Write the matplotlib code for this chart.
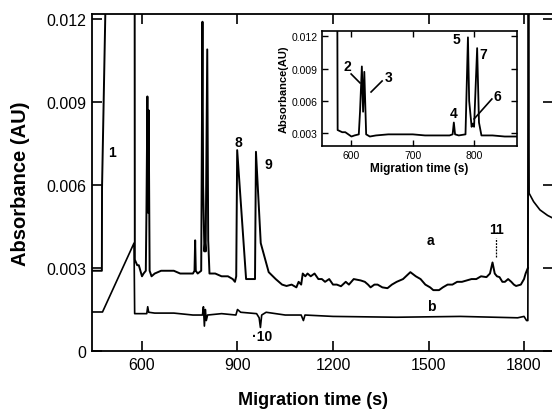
import matplotlib
matplotlib.use("Agg")
import matplotlib.pyplot as plt

plt.rcParams["font.family"] = ["Liberation Sans", "DejaVu Sans"]

# trace a (sample)
t_a = [443, 474, 474.5, 487, 500, 560, 577, 577.5, 585, 590, 595, 600, 605, 612,
       614, 617, 619, 621, 624, 630, 640, 660, 680, 700, 720, 740, 760, 765, 767,
       769, 775, 786, 790, 792, 796, 798, 800, 805, 808, 812, 830, 850, 870, 885,
       892, 896, 899, 927, 940, 955, 958, 973, 998, 1020, 1040, 1054, 1070, 1085,
       1092, 1100, 1105, 1113, 1120, 1130, 1142, 1154, 1165, 1175, 1188, 1200,
       1212, 1225, 1240, 1250, 1265, 1287, 1300, 1310, 1318, 1330, 1340, 1355,
       1371, 1385, 1400, 1420, 1443, 1460, 1475, 1490, 1505, 1515, 1533, 1545,
       1560, 1575, 1590, 1605, 1620, 1635, 1650, 1665, 1682, 1693, 1701, 1708,
       1715, 1723, 1732, 1740, 1750, 1760, 1768, 1775, 1790, 1800, 1805, 1812]
a_val = [0.0029, 0.0029, 0.0059, 0.0135, 0.0135, 0.0135, 0.0135, 0.0033, 0.0031,
         0.0031, 0.0029, 0.0027, 0.0028, 0.0029, 0.0050, 0.0092, 0.0050, 0.0087,
         0.0029, 0.0027, 0.0028, 0.0029, 0.0029, 0.0029, 0.0028, 0.0028, 0.0028,
         0.0029, 0.0040, 0.0029, 0.0028, 0.0029, 0.0119, 0.0060, 0.0036, 0.0039,
         0.0036, 0.0109, 0.0040, 0.0028, 0.0028, 0.0027, 0.0027, 0.0026, 0.0025,
         0.0027, 0.00726, 0.0026, 0.0026, 0.0026, 0.0072, 0.0039, 0.00285, 0.0026,
         0.0024, 0.00235, 0.0024, 0.0023, 0.0025, 0.0024, 0.0028, 0.0027, 0.0028,
         0.0027, 0.0028, 0.0026, 0.0026, 0.0025, 0.0026, 0.0024, 0.0024, 0.00234,
         0.0025, 0.0024, 0.0026, 0.00255, 0.0025, 0.0024, 0.0023, 0.0024, 0.0024,
         0.0023, 0.00227, 0.0024, 0.0025, 0.0026, 0.00285, 0.0027, 0.0026, 0.0024,
         0.0023, 0.0022, 0.0022, 0.0023, 0.0024, 0.0024, 0.0025, 0.0025, 0.00255,
         0.0026, 0.0026, 0.0027, 0.00267, 0.0028, 0.0032, 0.0028, 0.0027, 0.00267,
         0.0025, 0.0025, 0.0026, 0.0025, 0.0024, 0.00235, 0.0024, 0.0026, 0.0028,
         0.0030]

# trace b (blank)
t_b = [443, 476, 575, 577, 600, 615, 618, 621, 640, 700, 760, 790, 793, 796, 799,
       802, 806, 850, 895, 900, 910, 960, 968, 972, 976, 990, 1050, 1100, 1107,
       1112, 1200, 1400, 1600, 1780, 1800, 1808, 1812, 1814, 1816, 1830, 1850,
       1874, 1891]
b_val = [0.00141, 0.00141, 0.0039, 0.00135, 0.00135, 0.00135, 0.0016, 0.0014,
         0.00137, 0.00137, 0.0013, 0.0013, 0.0016, 0.0009, 0.0015, 0.0011, 0.0013,
         0.00135, 0.0013, 0.0015, 0.0014, 0.00135, 0.0012, 0.00085, 0.0013, 0.0014,
         0.0013, 0.0013, 0.0011, 0.0013, 0.00125, 0.00122, 0.00125, 0.0012,
         0.00125, 0.0011, 0.0011, 0.0135, 0.0057, 0.0054, 0.0051, 0.0049, 0.0048]

main_labels = [("1", 505, 0.0072), ("8", 902, 0.00755), ("9", 996, 0.00676),
               ("a", 1505, 0.0040), ("b", 1508, 0.00163), ("·10", 977, 0.00054),
               ("11", 1712, 0.0044)]

fig = plt.figure(figsize=(5.52, 4.10), dpi=100)
ax = fig.add_axes([92 / 552, 1 - 352 / 410, 461 / 552, 337 / 410])
ax.plot(t_a, a_val, color="black", lw=1.4)
ax.plot(t_b, b_val, color="black", lw=1.2)
ax.plot([1812, 1814], [0.0030, 0.0135], color="black", lw=1.2)
ax.set_xlim(443, 1891)
ax.set_ylim(0, 0.01218)
ax.set_xticks([600, 900, 1200, 1500, 1800])
ax.set_yticks([0, 0.003, 0.006, 0.009, 0.012])
ax.set_yticklabels(["0", "0.003", "0.006", "0.009", "0.012"])
ax.tick_params(direction="in", top=True, right=True, length=7, width=1.2,
               labelsize=11.5, pad=4)
for s in ax.spines.values():
    s.set_linewidth(1.3)
ax.set_xlabel("Migration time (s)", fontsize=13, fontweight="bold")
ax.xaxis.set_label_coords(0.479, -0.118)
ax.set_ylabel("Absorbance (AU)", fontsize=14.5, fontweight="bold", labelpad=12)
for txt, x, y in main_labels:
    ax.text(x, y, txt, fontsize=10, fontweight="bold", ha="center", va="center")
ax.plot([1712, 1712], [0.0034, 0.0041], color="black", lw=0.9, ls=(0, (1.5, 1)))

# inset: zoom of trace a
ins = fig.add_axes([322 / 552, 1 - 147 / 410, 195 / 552, 115 / 410])
ins.plot(t_a, a_val, color="black", lw=1.3)
ins.set_xlim(552, 870)
ins.set_ylim(0.00182, 0.01249)
ins.set_xticks([600, 700, 800])
ins.set_yticks([0.003, 0.006, 0.009, 0.012])
ins.set_yticklabels(["0.003", "0.006", "0.009", "0.012"])
ins.tick_params(direction="in", top=True, right=True, length=4, width=1,
                labelsize=7.5, pad=3)
for s in ins.spines.values():
    s.set_linewidth(1.2)
ins.set_xlabel("Migration time (s)", fontsize=8.5, fontweight="bold", labelpad=1)
ins.set_ylabel("Absorbance(AU)", fontsize=8, fontweight="bold", labelpad=2)

inset_labels = [("2", 593, 0.00924, 599.5, 0.0085, 614, 0.00767),
                ("3", 660, 0.00822, 650, 0.00785, 632, 0.00683),
                ("6", 838, 0.00646, 829, 0.00618, 800, 0.00433)]
for txt, x, y, x0, y0, x1, y1 in inset_labels:
    ins.text(x, y, txt, fontsize=10, fontweight="bold", ha="center", va="center")
    ins.plot([x0, x1], [y0, y1], color="black", lw=1.2)
for txt, x, y in [("4", 766, 0.00488), ("5", 772, 0.01175), ("7", 815, 0.01036)]:
    ins.text(x, y, txt, fontsize=10, fontweight="bold", ha="center", va="center")

fig.savefig("out.png", dpi=100)
